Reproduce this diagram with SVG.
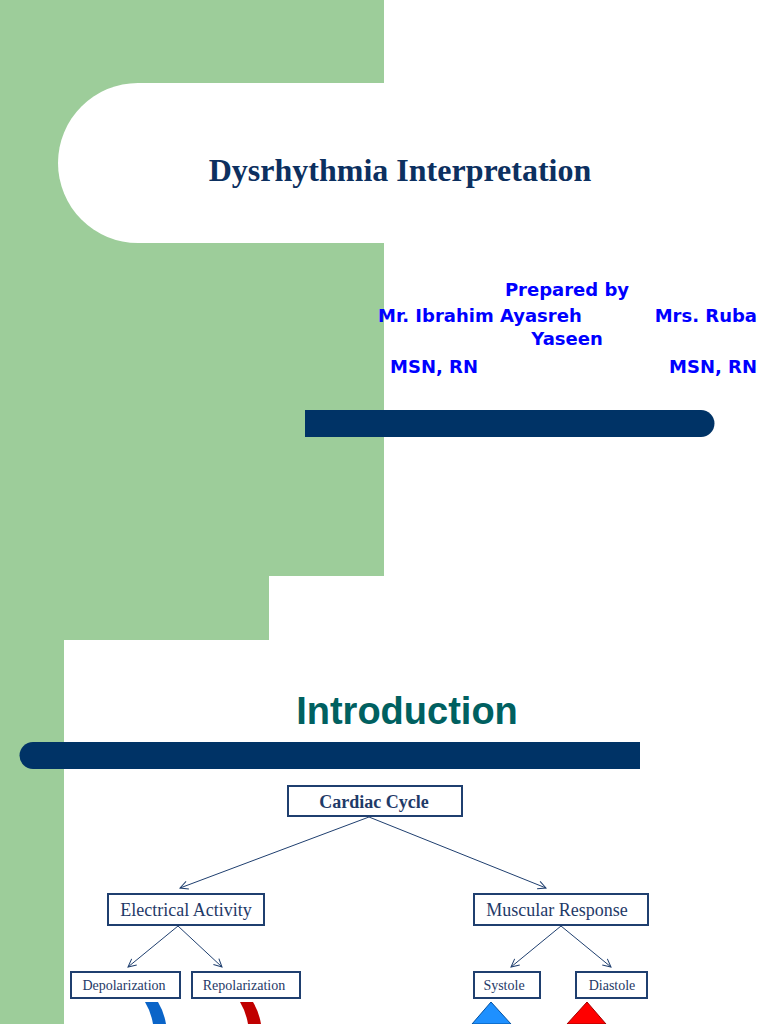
<svg xmlns="http://www.w3.org/2000/svg" width="768" height="1024" viewBox="0 0 768 1024">
<style>
.g{fill:#9dcd9a}
.bar{fill:#003366}
.box{fill:#fff;stroke:#1f3f6f;stroke-width:2}
.t{font-family:"Liberation Serif",serif;fill:#1f3a68;text-anchor:middle}
.b{font-family:"DejaVu Sans",sans-serif;font-weight:bold;fill:#0000ff;font-size:18px}
.ln{stroke:#1f3f6f;stroke-width:1;fill:none;marker-end:url(#a)}
</style>
<defs><marker id="a" markerWidth="10" markerHeight="10" refX="9" refY="5" orient="auto" markerUnits="userSpaceOnUse"><path d="M1,1 L9,5 L1,9" fill="none" stroke="#1f3f6f" stroke-width="1"/></marker></defs>
<rect width="768" height="1024" fill="#fff"/>
<rect class="g" x="0" y="0" width="384" height="576"/>
<path fill="#fff" d="M138,83 H384 V243 H138 A80,80 0 0 1 138,83 Z"/>
<text x="400" y="181" font-family="Liberation Serif,serif" font-weight="bold" font-size="32" fill="#0c3060" text-anchor="middle">Dysrhythmia Interpretation</text>
<text class="b" x="567" y="296" text-anchor="middle">Prepared by</text>
<text class="b" x="378" y="322">Mr. Ibrahim Ayasreh</text>
<text class="b" x="757" y="322" text-anchor="end">Mrs. Ruba</text>
<text class="b" x="567" y="345" text-anchor="middle">Yaseen</text>
<text class="b" x="390" y="373">MSN, RN</text>
<text class="b" x="757" y="373" text-anchor="end">MSN, RN</text>
<path class="bar" d="M305,410 H701 A13,13 0 0 1 701,437 H305 Z"/>
<rect class="g" x="0" y="576" width="269" height="64"/>
<rect class="g" x="0" y="640" width="64" height="384"/>
<path fill="#fff" d="M64,1024 V666 A26,26 0 0 1 90,640 H269 V640 Z"/>
<text x="407" y="724" font-family="Liberation Sans,sans-serif" font-weight="bold" font-size="38" fill="#006060" text-anchor="middle">Introduction</text>
<path class="bar" d="M33,742 H640 V769 H33 A13.5,13.5 0 0 1 33,742 Z"/>
<g id="connectors">
<line class="ln" x1="369" y1="817" x2="180" y2="888"/>
<line class="ln" x1="369" y1="817" x2="546" y2="888"/>
<line class="ln" x1="178" y1="926" x2="128" y2="967"/>
<line class="ln" x1="178" y1="926" x2="222" y2="967"/>
<line class="ln" x1="561" y1="926" x2="511" y2="967"/>
<line class="ln" x1="561" y1="926" x2="611" y2="967"/>
</g>
<g id="cardiac"><rect class="box" x="288" y="786" width="174" height="30"/><text class="t" x="374" y="808" font-size="18" font-weight="bold">Cardiac Cycle</text></g>
<g id="electrical"><rect class="box" x="108" y="894" width="156" height="31"/><text class="t" x="186" y="916" font-size="18">Electrical Activity</text></g>
<g id="muscular"><rect class="box" x="474" y="894" width="174" height="31"/><text class="t" x="557" y="916" font-size="18">Muscular Response</text></g>
<g id="depol"><rect class="box" x="71" y="972" width="109" height="26"/><text class="t" x="124" y="990" font-size="14">Depolarization</text></g>
<g id="repol"><rect class="box" x="192" y="972" width="108" height="26"/><text class="t" x="244" y="990" font-size="14">Repolarization</text></g>
<g id="systole"><rect class="box" x="474" y="972" width="66" height="26"/><text class="t" x="504" y="990" font-size="14">Systole</text></g>
<g id="diastole"><rect class="box" x="576" y="972" width="71" height="26"/><text class="t" x="612" y="990" font-size="14">Diastole</text></g>
<path fill="#0a64c8" d="M145,1002 H158 Q164,1012 166,1024 H153 Q151,1012 145,1002 Z"/>
<path fill="#c00000" d="M240,1002 H253 Q259,1012 261,1024 H248 Q246,1012 240,1002 Z"/>
<path fill="#1e90ff" stroke="#0050a0" d="M472,1024 L491,1002 L511,1024 H502 V1024 H482 Z"/>
<path fill="#ff0000" stroke="#a00000" d="M567,1024 L587,1002 L606,1024 Z"/>
</svg>
